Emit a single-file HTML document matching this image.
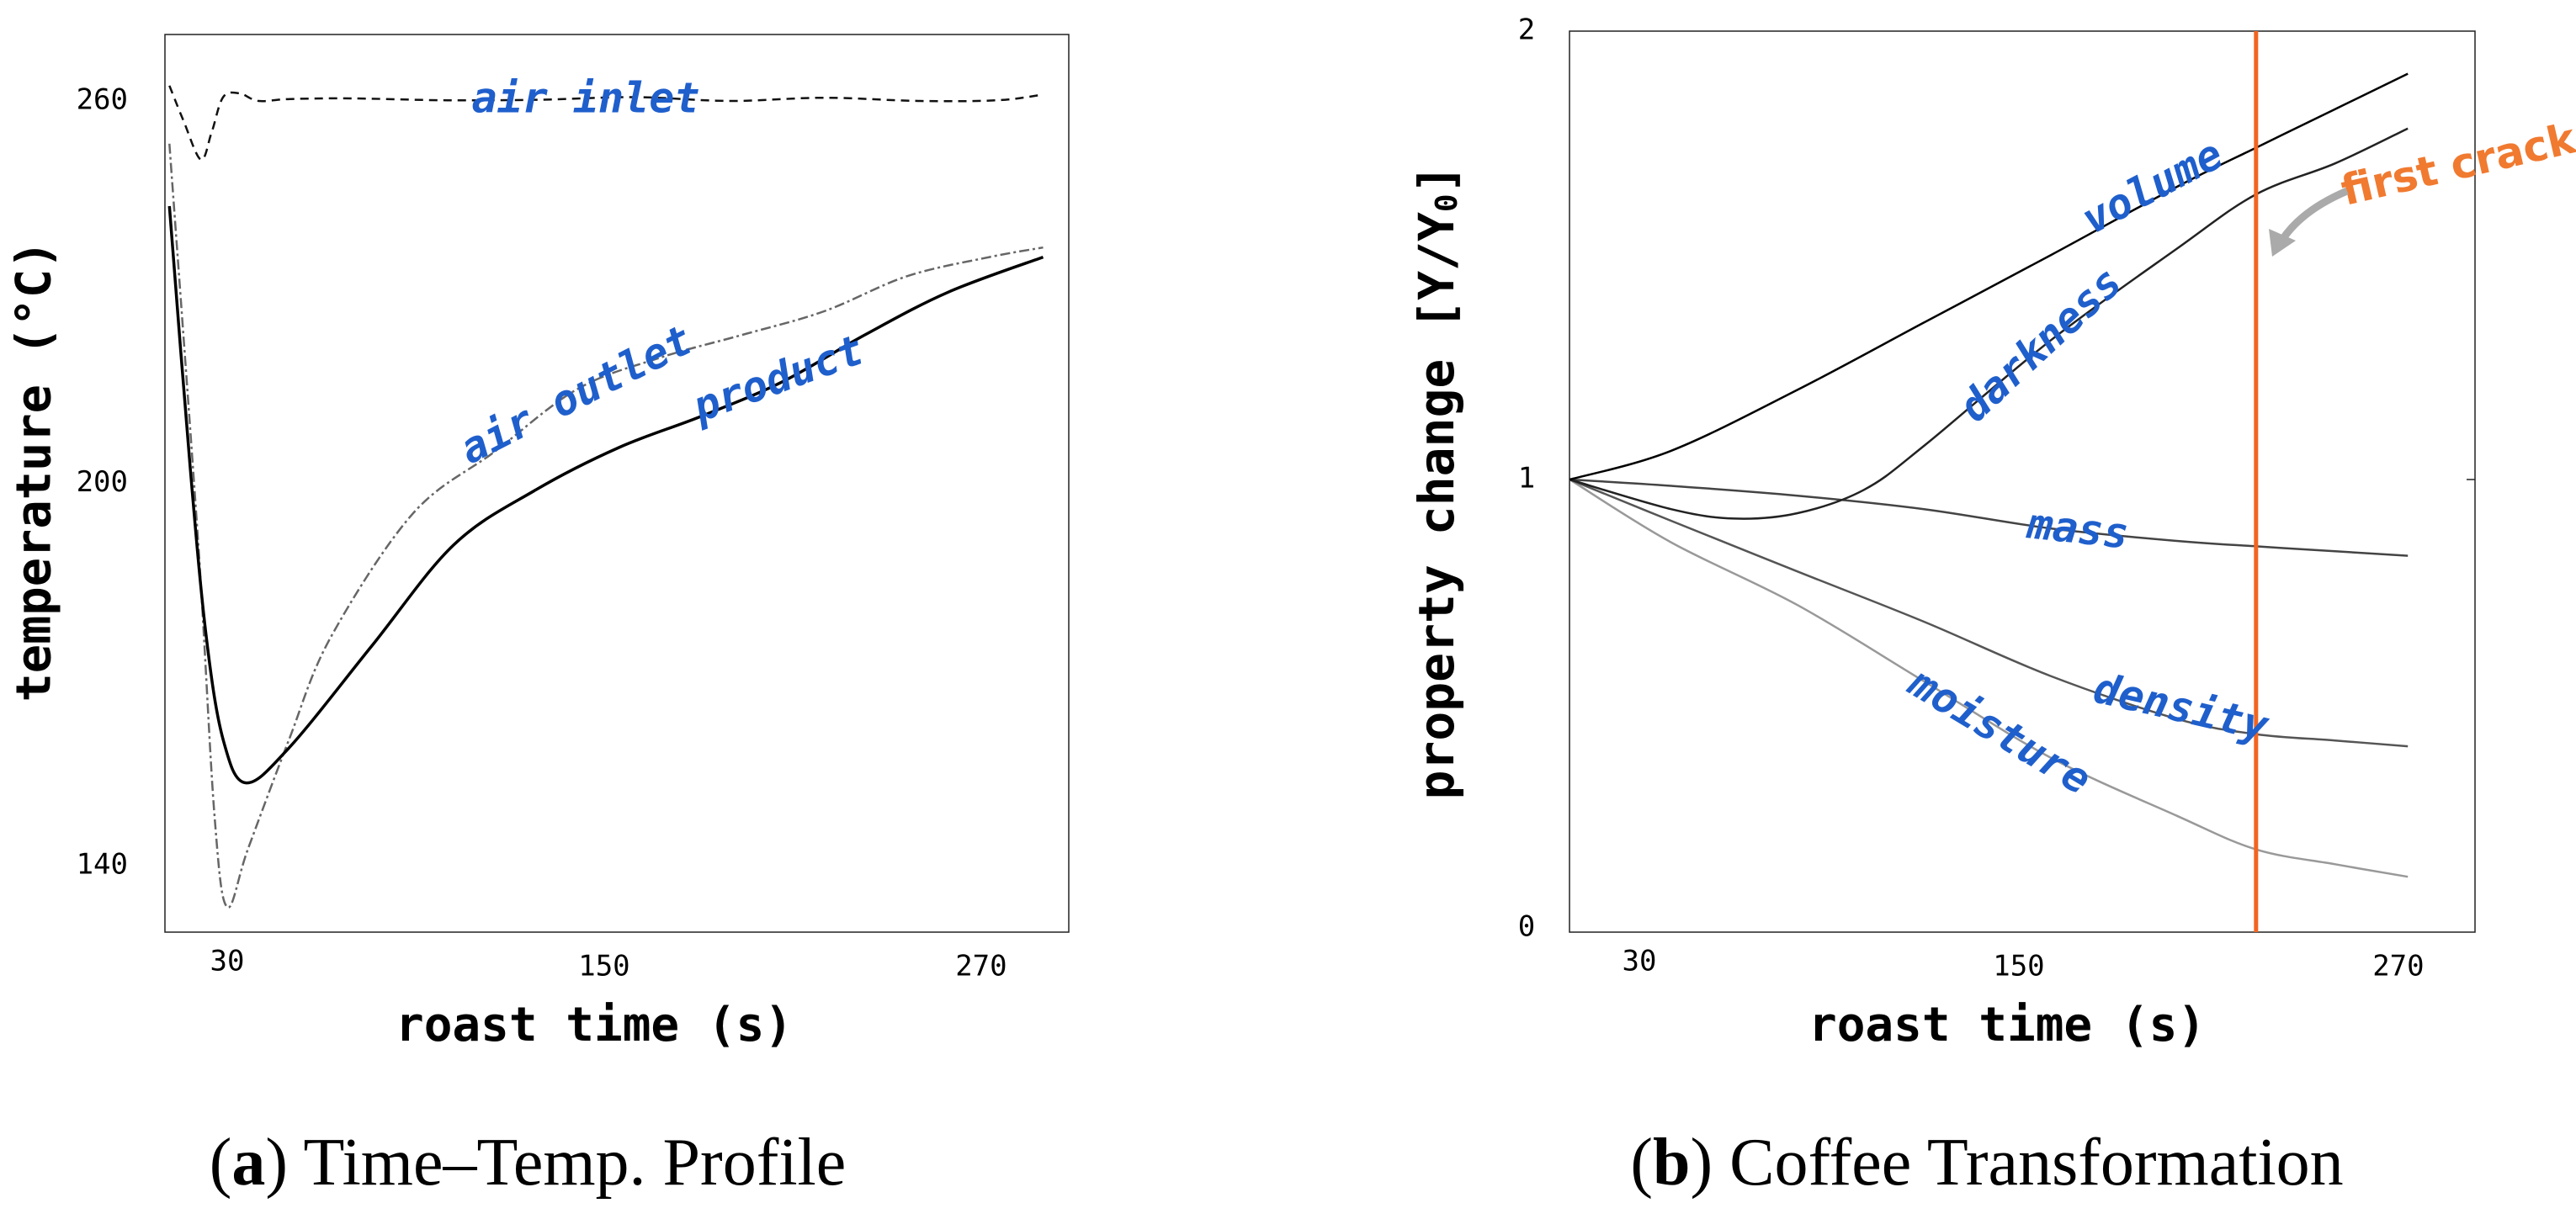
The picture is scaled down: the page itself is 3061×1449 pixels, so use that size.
<!DOCTYPE html>
<html><head><meta charset="utf-8"><style>
html,body{margin:0;padding:0;background:#fff}
svg{display:block}
.mono{font-family:"DejaVu Sans Mono","Liberation Mono",monospace}
.lab{font-family:"DejaVu Sans Mono","Liberation Mono",monospace;font-style:italic;font-weight:bold;fill:#1f5fcc;font-size:50px}
</style></head><body>
<svg id="fig" width="3061" height="1449" viewBox="0 0 3061 1449" xmlns="http://www.w3.org/2000/svg">
<g id="pa">
<rect x="196" y="41" width="1074" height="1067" fill="none" stroke="#222" stroke-width="1.5"/>
<g id="a-ticks"></g>
<g id="a-lines"></g>
<text class="lab" x="696" y="120" text-anchor="middle" dominant-baseline="middle">air inlet</text>
<text class="lab" transform="translate(686,472) rotate(-27)" text-anchor="middle" dominant-baseline="middle">air outlet</text>
<text class="lab" transform="translate(926,453) rotate(-20)" text-anchor="middle" dominant-baseline="middle">product</text>
<text class="mono" x="706" y="1222" font-size="56" font-weight="bold" text-anchor="middle" dominant-baseline="middle">roast time (s)</text>
<text class="mono" transform="translate(44,560) rotate(-90)" font-size="57" font-weight="bold" text-anchor="middle" dominant-baseline="middle">temperature (°C)</text>
<text x="627" y="1408" font-family="'Liberation Serif',serif" font-size="80" text-anchor="middle">(<tspan font-weight="bold">a</tspan>) Time–Temp. Profile</text>
</g>
<g id="pb">
<rect x="1865" y="37" width="1076" height="1071" fill="none" stroke="#222" stroke-width="1.5"/>
<line x1="2931" x2="2941" y1="570" y2="570" stroke="#222" stroke-width="1.5"/>
<g id="b-ticks"></g>
<g id="b-lines"></g>
<text class="lab" transform="translate(2559,225) rotate(-28)" text-anchor="middle" dominant-baseline="middle">volume</text>
<text class="lab" transform="translate(2427,412) rotate(-43)" text-anchor="middle" dominant-baseline="middle">darkness</text>
<text class="lab" transform="translate(2469,632) rotate(6)" text-anchor="middle" dominant-baseline="middle">mass</text>
<text class="lab" transform="translate(2591,844) rotate(13)" text-anchor="middle" dominant-baseline="middle">density</text>
<text class="lab" transform="translate(2375,872) rotate(31)" text-anchor="middle" dominant-baseline="middle">moisture</text>
<text transform="translate(2922,199) rotate(-13)" font-family="'DejaVu Sans','Liberation Sans',sans-serif" font-weight="bold" font-size="50" fill="#f07a30" text-anchor="middle" dominant-baseline="middle">first crack</text>
<path d="M2789,227 Q2735,250 2712,285" fill="none" stroke="#aaa" stroke-width="9"/>
<polygon points="2700,305 2696,272 2728,286" fill="#aaa"/>
<text class="mono" x="2385" y="1222" font-size="56" font-weight="bold" text-anchor="middle" dominant-baseline="middle">roast time (s)</text>
<text class="mono" transform="translate(1711,573) rotate(-90)" font-size="58" font-weight="bold" text-anchor="middle" dominant-baseline="middle">property change [Y/Y<tspan font-size="36" dy="10">0</tspan><tspan dy="-10">]</tspan></text>
<text x="2361" y="1408" font-family="'Liberation Serif',serif" font-size="80" text-anchor="middle">(<tspan font-weight="bold">b</tspan>) Coffee Transformation</text>
</g>
</svg>
<script>
// Panel A data
const aXTicks = [30, 150, 270];
const aYTicks = [140, 200, 260];
const productT = [11.6, 18.2, 23.4, 28.7, 35.8, 49.7, 75.9, 102, 128, 154.6, 180.8, 207, 233, 259.5, 289.7];
const productV = [243.5, 202.5, 175.6, 159.8, 153.0, 158.5, 174.4, 190.3, 198.9, 205.6, 210.5, 216, 223.3, 230, 235.5];
const outletT = [11.6, 20.8, 26, 30, 36.6, 49.7, 62.8, 89, 115.2, 141.5, 167.7, 194, 220, 246.4, 272.6, 289.7];
const outletV = [253.3, 190.3, 147.5, 133.5, 142.6, 159.8, 175.7, 195.2, 205, 214.8, 219.7, 223.3, 227, 232.5, 235.5, 237];
const inletT = [11.6, 16, 21.6, 25, 28.7, 33.9, 40, 50, 70, 100, 130, 160, 190, 220, 250, 275, 289.7];
const inletV = [262.4, 257, 250.8, 255, 260.6, 261.2, 260, 260.3, 260.4, 260.1, 260.2, 260.6, 260.0, 260.5, 260.0, 260.1, 261];
// Panel B data
const bXTicks = [30, 150, 270];
const bYTicks = [0, 1, 2];
const bT = [8, 40, 80, 120, 160, 200, 225, 250, 273];
const volumeV = [1, 1.064, 1.20, 1.35, 1.50, 1.653, 1.74, 1.826, 1.905];
const darkT = [8, 40, 60, 80, 101, 120, 160, 200, 225, 250, 273];
const darknessV = [1, 0.934, 0.913, 0.925, 0.977, 1.075, 1.31, 1.515, 1.636, 1.705, 1.783];
const massV = [1, 0.986, 0.964, 0.934, 0.891, 0.863, 0.851, 0.84, 0.830];
const densityV = [1, 0.908, 0.795, 0.683, 0.562, 0.466, 0.432, 0.418, 0.405];
const moistureV = [1, 0.86, 0.72, 0.55, 0.38, 0.25, 0.175, 0.142, 0.114];
const firstCrackT = 225;

const NS = "http://www.w3.org/2000/svg";
const ax = t => 270 + (t - 30) * 3.733;
const ay = v => 120 + (260 - v) * 7.575;
const bx = t => 1948 + (t - 30) * 3.758;
const by = v => 1103 - v * 533;

function smooth(pts){
  let d = "M" + pts[0][0].toFixed(1) + "," + pts[0][1].toFixed(1);
  for (let i = 0; i < pts.length - 1; i++) {
    const p0 = pts[Math.max(0, i - 1)], p1 = pts[i], p2 = pts[i + 1], p3 = pts[Math.min(pts.length - 1, i + 2)];
    const c1x = p1[0] + (p2[0] - p0[0]) / 6, c1y = p1[1] + (p2[1] - p0[1]) / 6;
    const c2x = p2[0] - (p3[0] - p1[0]) / 6, c2y = p2[1] - (p3[1] - p1[1]) / 6;
    d += "C" + c1x.toFixed(1) + "," + c1y.toFixed(1) + " " + c2x.toFixed(1) + "," + c2y.toFixed(1) + " " + p2[0].toFixed(1) + "," + p2[1].toFixed(1);
  }
  return d;
}
function line(g, xs, ys, fx, fy, color, w, dash, name){
  const p = document.createElementNS(NS, "path");
  p.setAttribute("d", smooth(xs.map((t, i) => [fx(t), fy(ys[i])])));
  p.setAttribute("fill", "none");
  p.setAttribute("stroke", color);
  p.setAttribute("stroke-width", w);
  if (dash) p.setAttribute("stroke-dasharray", dash);
  
  
  g.appendChild(p);
}
function txt(g, x, y, s, anchor, name){
  const t = document.createElementNS(NS, "text");
  t.setAttribute("x", x); t.setAttribute("y", y);
  t.setAttribute("class", "mono");
  t.setAttribute("font-size", "34");
  t.setAttribute("text-anchor", anchor);
  t.setAttribute("dominant-baseline", "middle");
  t.textContent = s;
  
  
  g.appendChild(t);
}
const aT = document.getElementById("a-ticks");
aXTicks.forEach(t => txt(aT, ax(t), t === 30 ? 1144 : 1150, String(t), "middle", "x-tick-label"));
aYTicks.forEach(v => txt(aT, 152, ay(v), String(v), "end", "y-tick-label"));
const aL = document.getElementById("a-lines");
line(aL, inletT, inletV, ax, ay, "#111", 2.5, "10,7", "air-inlet-line");
line(aL, outletT, outletV, ax, ay, "#666", 2.5, "12,4,3,4", "air-outlet-line");
line(aL, productT, productV, ax, ay, "#000", 3.5, null, "product-line");

const bTk = document.getElementById("b-ticks");
bXTicks.forEach(t => txt(bTk, bx(t), t === 30 ? 1144 : 1150, String(t), "middle", "x-tick-label"));
bYTicks.forEach(v => txt(bTk, 1814, by(v), String(v), "middle", "y-tick-label"));
const bL = document.getElementById("b-lines");
line(bL, bT, moistureV, bx, by, "#999", 2.5, null, "moisture-line");
line(bL, bT, densityV, bx, by, "#555", 2.5, null, "density-line");
line(bL, bT, massV, bx, by, "#444", 2.5, null, "mass-line");
line(bL, darkT, darknessV, bx, by, "#222", 2.5, null, "darkness-line");
line(bL, bT, volumeV, bx, by, "#000", 2.5, null, "volume-line");
const fc = document.createElementNS(NS, "line");
fc.setAttribute("x1", bx(firstCrackT)); fc.setAttribute("x2", bx(firstCrackT));
fc.setAttribute("y1", 37); fc.setAttribute("y2", 1108);
fc.setAttribute("stroke", "#f26520"); fc.setAttribute("stroke-width", "5");


bL.appendChild(fc);
</script>
</body></html>
